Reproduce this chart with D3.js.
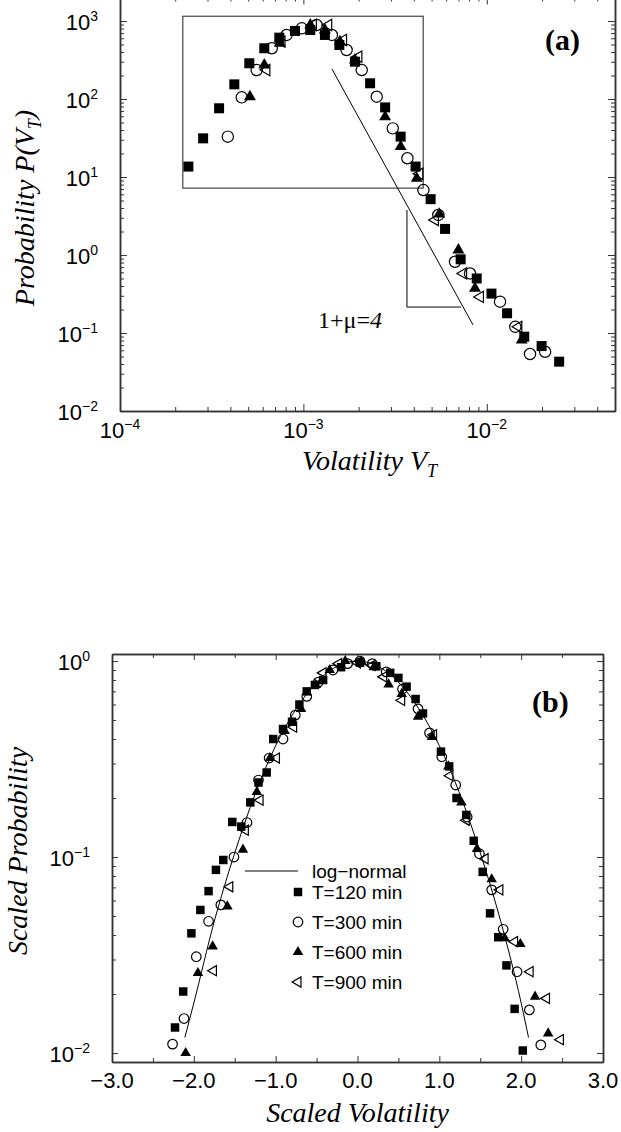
<!DOCTYPE html>
<html>
<head>
<meta charset="utf-8">
<script src="https://cdn.jsdelivr.net/npm/d3@7"></script>
<style>
    body { margin: 0; background: #fff; }
    .sans { font-family: "Liberation Sans", Arial, sans-serif; }
    .serif { font-family: "Liberation Serif", "Times New Roman", serif; }
</style>
</head>
<body>
<svg id="chart" width="621" height="1132"></svg>
<script>
// ---------- panel (a): P(V_T) vs V_T, one list per window [V_T, P] ----------
const volA120 = [[2.36e-4, 13.6], [2.84e-4, 31.3], [3.47e-4, 76], [4.2e-4, 154], [5.07e-4, 287],
    [6.12e-4, 447], [7.39e-4, 611], [9.0e-4, 745], [1.09e-3, 767], [1.31e-3, 662], [1.57e-3, 492],
    [1.91e-3, 301], [2.31e-3, 159], [2.79e-3, 78], [3.39e-3, 32.9], [4.09e-3, 13.6], [4.94e-3, 5.2],
    [5.92e-3, 2.16], [7.2e-3, 0.88], [8.81e-3, 0.50], [1.06e-2, 0.32], [1.29e-2, 0.179],
    [1.6e-2, 0.0897], [1.99e-2, 0.068], [2.48e-2, 0.0429]];
const volA300 = [[3.87e-4, 32.9], [4.61e-4, 105], [5.56e-4, 235], [6.72e-4, 447], [8.1e-4, 662],
    [9.8e-4, 805], [1.18e-3, 889], [1.43e-3, 662], [1.72e-3, 425], [2.08e-3, 235], [2.51e-3, 107],
    [3.07e-3, 42], [3.69e-3, 17.4], [4.51e-3, 6.8], [5.44e-3, 3.26], [6.71e-3, 0.82], [8.1e-3, 0.58],
    [1.18e-2, 0.252], [1.43e-2, 0.12], [1.72e-2, 0.0538], [2.08e-2, 0.0575]];
const volA600 = [[5.11e-4, 107], [6.12e-4, 273], [7.44e-4, 518], [1.09e-3, 889], [1.31e-3, 767],
    [1.58e-3, 543], [1.91e-3, 316], [2.79e-3, 59], [3.39e-3, 24.5], [4.15e-3, 9.6], [5.5e-3, 3.35],
    [7.0e-3, 1.16], [8.62e-3, 0.374], [1.55e-2, 0.081]];
const volA900 = [[6.3e-4, 235], [7.62e-4, 543], [1.13e-3, 889], [1.37e-3, 889], [1.65e-3, 571],
    [2.0e-3, 349], [4.3e-3, 11], [5.23e-3, 2.81], [7.45e-3, 0.58], [9.2e-3, 0.29], [1.49e-2, 0.12]];

const volTicksA = [1e-4, 1e-3, 1e-2];
const probTicksA = [1e3, 1e2, 1e1, 1e0, 1e-1, 1e-2];
const powerLawA = [[1.43e-3, 243], [8.41e-3, 0.127]];
const slopeGuideA = [[3.67e-3, 3.78], [3.67e-3, 0.215], [7.23e-3, 0.215]];
const insetBoxA = [[2.2e-4, 1150], [4.5e-3, 7.2]];

// ---------- panel (b): scaled distributions [scaled V, scaled P] ----------
const scaled120 = [[-2.23, 0.0135], [-2.13, 0.0206], [-2.03, 0.0408], [-1.92, 0.0537], [-1.82, 0.067],
    [-1.73, 0.086], [-1.64, 0.0966], [-1.53, 0.151], [-1.42, 0.143], [-1.31, 0.19], [-1.21, 0.24],
    [-1.11, 0.27], [-1.03, 0.40], [-0.91, 0.45], [-0.80, 0.49], [-0.71, 0.60], [-0.62, 0.70],
    [-0.52, 0.755], [-0.42, 0.80], [-0.2, 0.93], [0.03, 0.98], [0.23, 0.94], [0.40, 0.87],
    [0.50, 0.82], [0.60, 0.74], [0.71, 0.64], [0.80, 0.54], [1.02, 0.345], [1.12, 0.29], [1.21, 0.20],
    [1.33, 0.164], [1.42, 0.121], [1.53, 0.084], [1.62, 0.0516], [1.72, 0.039], [1.82, 0.028],
    [1.92, 0.0168], [2.02, 0.0103]];
const scaled300 = [[-2.26, 0.0111], [-2.12, 0.015], [-1.97, 0.031], [-1.82, 0.047], [-1.67, 0.057],
    [-1.51, 0.100], [-1.35, 0.15], [-1.21, 0.247], [-1.08, 0.32], [-0.91, 0.40], [-0.76, 0.53],
    [-0.62, 0.66], [-0.48, 0.78], [-0.3, 0.9], [-0.12, 0.97], [0.03, 1.0], [0.18, 0.97], [0.35, 0.88],
    [0.55, 0.72], [0.74, 0.57], [0.88, 0.43], [1.03, 0.325], [1.20, 0.233], [1.34, 0.16], [1.49, 0.104],
    [1.64, 0.068], [1.78, 0.0428], [1.95, 0.026], [2.10, 0.0166], [2.24, 0.011]];
const scaled600 = [[-2.10, 0.010], [-1.95, 0.0256], [-1.77, 0.035], [-1.59, 0.056], [-1.40, 0.109],
    [-1.23, 0.215], [-1.07, 0.32], [-0.89, 0.44], [-0.69, 0.57], [-0.51, 0.755], [-0.34, 0.90],
    [-0.15, 1.0], [0.05, 0.99], [0.2, 0.93], [0.38, 0.76], [0.54, 0.68], [0.74, 0.52], [0.91, 0.41],
    [1.11, 0.29], [1.27, 0.19], [1.46, 0.11], [1.64, 0.077], [1.80, 0.0385], [1.99, 0.036],
    [2.17, 0.0194], [2.33, 0.0126]];
const scaled900 = [[-1.76, 0.0263], [-1.56, 0.0705], [-1.37, 0.137], [-1.19, 0.195], [-0.99, 0.32],
    [-0.78, 0.46], [-0.42, 0.87], [-0.23, 0.97], [0.0, 0.98], [0.18, 0.95], [0.32, 0.83], [0.54, 0.63],
    [0.93, 0.42], [1.13, 0.26], [1.33, 0.154], [1.56, 0.098], [1.74, 0.068], [1.92, 0.037],
    [2.11, 0.026], [2.31, 0.019], [2.48, 0.0117]];
// fitted log-normal
const logNormalFit = [[-2.11, 0.012], [-2.0, 0.018], [-1.75, 0.047], [-1.5, 0.105], [-1.25, 0.21],
    [-1.0, 0.37], [-0.75, 0.57], [-0.5, 0.78], [-0.25, 0.94], [0, 1.0], [0.25, 0.94], [0.5, 0.78],
    [0.75, 0.57], [1.0, 0.37], [1.25, 0.21], [1.5, 0.105], [1.75, 0.047], [2.0, 0.018], [2.09, 0.012]];

const volTicksB = [-3, -2, -1, 0, 1, 2, 3];
const probTicksB = [1, 0.1, 0.01];
const legendNames = ["T=120 min", "T=300 min", "T=600 min", "T=900 min"];

// marker styles, same order as the legend
const markers = [
    { type: d3.symbolSquare, filled: true, rot: 0 },
    { type: d3.symbolCircle, filled: false, rot: 0 },
    { type: d3.symbolTriangle, filled: true, rot: 0 },
    { type: d3.symbolTriangle, filled: false, rot: -90 }
];
const MINUS = "\u2212";

let svg = d3.select("#chart");
svg.append("rect").attr("width", 621).attr("height", 1132).attr("fill", "#fff");

function isDecade(v) {
    let l = Math.log10(v);
    return Math.abs(l - Math.round(l)) < 1e-6;
}

// frame + inward ticks on all four sides, drawn with d3 axes
function frameAxes(g, x, y, xMaj, xMin, yMaj, yMin, lenMaj, lenMin) {
    let [x0, x1] = x.range(),
        [y0, y1] = y.range();
    let sides = [
        [d3.axisBottom(x), `translate(0,${y0})`, xMaj, xMin],
        [d3.axisTop(x), `translate(0,${y1})`, xMaj, xMin],
        [d3.axisLeft(y), `translate(${x0},0)`, yMaj, yMin],
        [d3.axisRight(y), `translate(${x1},0)`, yMaj, yMin]
    ];
    sides.forEach(([axis, tr, maj, min]) => {
        g.append("g").attr("transform", tr)
            .call(axis.tickValues(min).tickSize(-lenMin).tickSizeOuter(0).tickFormat(""));
        g.append("g").attr("transform", tr)
            .call(axis.tickValues(maj).tickSize(-lenMaj).tickSizeOuter(0).tickFormat(""));
    });
    g.selectAll(".domain").attr("stroke", "#333").attr("stroke-width", 1.5);
    g.selectAll(".tick line").attr("stroke", "#333").attr("stroke-width", 1);
}

function powerLabel(sel, v) {
    let e = Math.round(Math.log10(v));
    sel.text("10");
    sel.append("tspan")
        .attr("dy", -9)
        .attr("font-size", 14)
        .text(e < 0 ? MINUS + (-e) : String(e));
}

function drawSeries(g, x, y, pts, m, size) {
    g.append("g")
        .selectAll("path")
        .data(pts)
        .join("path")
        .attr("d", d3.symbol(m.type, size))
        .attr("transform", d => `translate(${x(d[0])},${y(d[1])}) rotate(${m.rot})`)
        .attr("fill", m.filled ? "#000" : "none")
        .attr("stroke", m.filled ? "none" : "#000")
        .attr("stroke-width", 1.2);
}

// ======================= panel (a) =======================
{
    let x = d3.scaleLog().domain([1e-4, 0.05]).range([120, 615]);
    let y = d3.scaleLog().domain([0.01, 2000]).range([411, -2.5]);
    let g = svg.append("g");

    let xMin = x.ticks().filter(v => !isDecade(v));
    let yMin = y.ticks().filter(v => !isDecade(v));
    let yMaj = y.ticks().filter(isDecade);
    frameAxes(g, x, y, volTicksA, xMin, yMaj, yMin, 7, 4);

    // inset box
    g.append("rect")
        .attr("x", x(insetBoxA[0][0]))
        .attr("y", y(insetBoxA[0][1]))
        .attr("width", x(insetBoxA[1][0]) - x(insetBoxA[0][0]))
        .attr("height", y(insetBoxA[1][1]) - y(insetBoxA[0][1]))
        .attr("fill", "none")
        .attr("stroke", "#444")
        .attr("stroke-width", 1.2);

    let line = d3.line().x(d => x(d[0])).y(d => y(d[1]));
    g.append("path").attr("d", line(powerLawA))
        .attr("fill", "none").attr("stroke", "#000").attr("stroke-width", 1);
    g.append("path").attr("d", line(slopeGuideA))
        .attr("fill", "none").attr("stroke", "#000").attr("stroke-width", 1);

    // draw order: circles, open triangles, squares, filled triangles
    drawSeries(g, x, y, volA300, markers[1], 100);
    drawSeries(g, x, y, volA900, markers[3], 55);
    drawSeries(g, x, y, volA120, markers[0], 100);
    drawSeries(g, x, y, volA600, markers[2], 62);

    // tick labels
    g.append("g").selectAll("text")
        .data(volTicksA)
        .join("text")
        .attr("class", "sans")
        .attr("x", d => x(d))
        .attr("y", 438)
        .attr("text-anchor", "middle")
        .attr("font-size", 22)
        .each(function (d) { powerLabel(d3.select(this), d); });
    g.append("g").selectAll("text")
        .data(probTicksA)
        .join("text")
        .attr("class", "sans")
        .attr("x", 98)
        .attr("y", d => y(d) + 9)
        .attr("text-anchor", "end")
        .attr("font-size", 22)
        .each(function (d) { powerLabel(d3.select(this), d); });

    // axis titles
    let xt = g.append("text").attr("class", "serif")
        .attr("x", x(Math.sqrt(1e-4 * 0.05)) + 2).attr("y", 470)
        .attr("text-anchor", "middle").attr("font-size", 28).attr("font-style", "italic");
    xt.append("tspan").text("Volatility V");
    xt.append("tspan").attr("dy", 7).attr("font-size", 18).text("T");

    let yt = g.append("text").attr("class", "serif")
        .attr("transform", "translate(34,208) rotate(-90)")
        .attr("text-anchor", "middle").attr("font-size", 28).attr("font-style", "italic");
    yt.append("tspan").text("Probability P(V");
    yt.append("tspan").attr("dy", 7).attr("font-size", 18).text("T");
    yt.append("tspan").attr("dy", -7).text(")");

    let mu = g.append("text").attr("class", "serif")
        .attr("x", 318).attr("y", 328).attr("font-size", 24);
    mu.append("tspan").text("1+\u03bc=");
    mu.append("tspan").attr("font-style", "italic").text("4");

    g.append("text").attr("class", "serif")
        .attr("x", 545).attr("y", 50)
        .attr("font-size", 30).attr("font-weight", "bold")
        .text("(a)");
}

// ======================= panel (b) =======================
{
    let x = d3.scaleLinear().domain([-3, 3]).range([112, 603]);
    let y = d3.scaleLog().domain([0.009, 1.086]).range([1062, 654]);
    let g = svg.append("g");

    let xAll = d3.range(-3, 3.01, 0.5);
    let xMin = xAll.filter(v => Math.abs(v - Math.round(v)) > 1e-6);
    let yMin = y.ticks().filter(v => !isDecade(v) && v > 0.0095);
    frameAxes(g, x, y, volTicksB, xMin, probTicksB, yMin, 6, 4);

    let line = d3.line().x(d => x(d[0])).y(d => y(d[1])).curve(d3.curveMonotoneX);
    g.append("path").attr("d", line(logNormalFit))
        .attr("fill", "none").attr("stroke", "#000").attr("stroke-width", 1);

    drawSeries(g, x, y, scaled300, markers[1], 72);
    drawSeries(g, x, y, scaled900, markers[3], 45);
    drawSeries(g, x, y, scaled120, markers[0], 72);
    drawSeries(g, x, y, scaled600, markers[2], 48);

    g.append("g").selectAll("text")
        .data(volTicksB)
        .join("text")
        .attr("class", "sans")
        .attr("x", d => x(d))
        .attr("y", 1088)
        .attr("text-anchor", "middle")
        .attr("font-size", 22)
        .text(d => (d < 0 ? MINUS : "") + Math.abs(d).toFixed(1));
    g.append("g").selectAll("text")
        .data(probTicksB)
        .join("text")
        .attr("class", "sans")
        .attr("x", 90)
        .attr("y", d => y(d) + 9)
        .attr("text-anchor", "end")
        .attr("font-size", 22)
        .each(function (d) { powerLabel(d3.select(this), d); });

    g.append("text").attr("class", "serif")
        .attr("x", x(0)).attr("y", 1122)
        .attr("text-anchor", "middle").attr("font-size", 28).attr("font-style", "italic")
        .text("Scaled Volatility");
    g.append("text").attr("class", "serif")
        .attr("transform", "translate(27,851) rotate(-90)")
        .attr("text-anchor", "middle").attr("font-size", 28).attr("font-style", "italic")
        .text("Scaled Probability");

    g.append("text").attr("class", "serif")
        .attr("x", 532).attr("y", 712)
        .attr("font-size", 30).attr("font-weight", "bold")
        .text("(b)");

    // legend
    let leg = g.append("g").attr("class", "sans").attr("font-size", 19);
    leg.append("line")
        .attr("x1", 245).attr("x2", 298).attr("y1", 871).attr("y2", 871)
        .attr("stroke", "#000").attr("stroke-width", 1);
    leg.append("text").attr("x", 312).attr("y", 878).text("log" + MINUS + "normal");
    let rows = [892, 922, 952, 982];
    legendNames.forEach((name, i) => {
        let m = markers[i];
        leg.append("path")
            .attr("d", d3.symbol(m.type, m.rot ? 45 : (m.type === d3.symbolTriangle ? 48 : 72)))
            .attr("transform", `translate(298,${rows[i]}) rotate(${m.rot})`)
            .attr("fill", m.filled ? "#000" : "none")
            .attr("stroke", m.filled ? "none" : "#000")
            .attr("stroke-width", 1.2);
        leg.append("text").attr("x", 312).attr("y", rows[i] + 7).text(name);
    });
}
</script>
</body>
</html>
